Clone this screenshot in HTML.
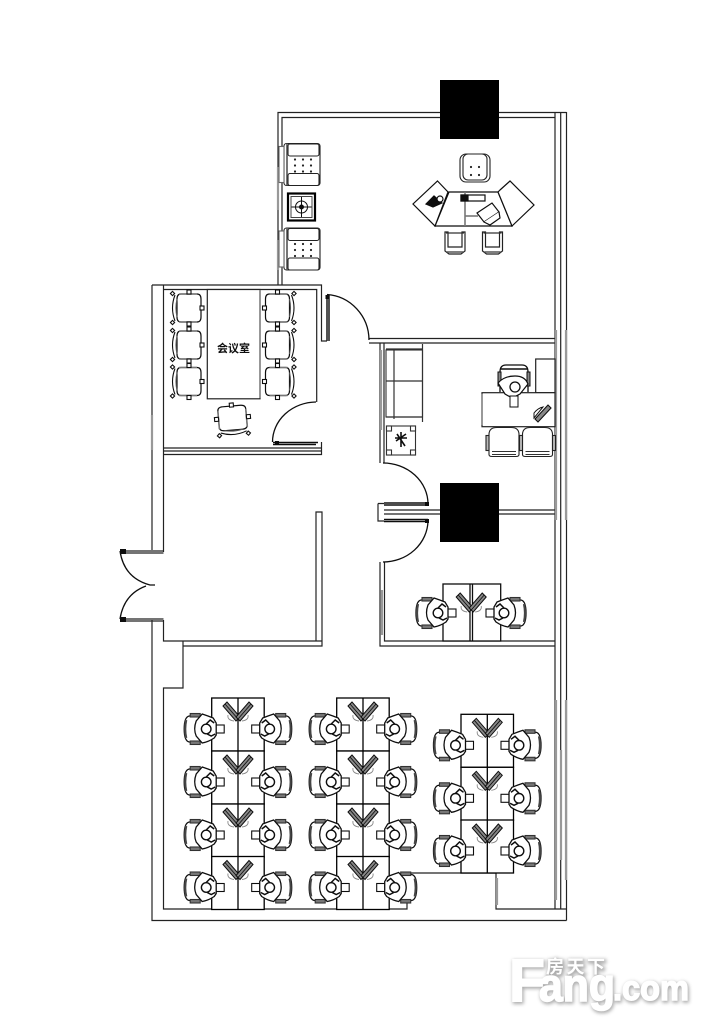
<!DOCTYPE html>
<html><head><meta charset="utf-8"><style>
html,body{margin:0;padding:0;background:#fff;width:708px;height:1025px;overflow:hidden}
svg{display:block}
</style></head><body>
<svg width="708" height="1025" viewBox="0 0 708 1025" xmlns="http://www.w3.org/2000/svg">
<defs>
<filter id="bl" x="-10%" y="-20%" width="120%" height="140%"><feGaussianBlur stdDeviation="1.8"/></filter>
<filter id="soft" x="0" y="0" width="100%" height="100%" filterUnits="userSpaceOnUse" primitiveUnits="userSpaceOnUse"><feGaussianBlur stdDeviation="0.35"/></filter>
<g id="worker" fill="none" stroke="#111" stroke-width="1.100">
  <path d="M-10-13H-16Q-21-12-21 0Q-21 12-16 13H-10" fill="#fff" stroke-width="1.300"/>
  <path d="M-19-9Q-21 0-19 9" stroke="#444" stroke-width="2.200"/>
  <rect x="-15" y="-15.500" width="10" height="3.500" fill="#777" stroke="#333"/>
  <rect x="-15" y="12" width="10" height="3.500" fill="#777" stroke="#333"/>
  <rect x="6" y="-4" width="13" height="8" fill="#fff"/>
  <path d="M-3-15L-9-8Q-12 0-9 7L-3 14Q3 13 9 9L11 6V-6L8-11Q3-13-3-15Z" fill="#fff" stroke-width="1.300"/>
  <circle cx="1" cy="0" r="4.800" fill="#fff" stroke-width="1.400"/>
  <path d="M1-5L5-9L9-6M2 5L6 7L10 5" stroke-width="1.500"/>
</g>
<g id="v" fill="none" stroke="#333">
  <path d="M-10 7Q-11 12-4 13M10 7Q11 12 4 13" stroke="#888" stroke-width="0.900"/>
  <path d="M-15-2L-11-6L2 9L-2 13Z" fill="#888" stroke="#111" stroke-width="1"/>
  <path d="M-13-4L0 11" stroke="#111" stroke-width="0.900"/>
  <path d="M15-2L11-6L-2 9L2 13Z" fill="#888" stroke="#111" stroke-width="1"/>
  <path d="M13-4L0 11" stroke="#111" stroke-width="0.900"/>
</g>
<g id="pod">
  <rect x="0" y="0" width="52.500" height="53" fill="#fff" stroke="#000" stroke-width="1.300"/>
  <path d="M26.300 0V53" stroke="#000" stroke-width="1.300"/>
  <use href="#v" x="26.300" y="10"/>
  <use href="#worker" x="-6.500" y="31"/>
  <use href="#worker" transform="translate(59 31) scale(-1 1)"/>
</g>
<g id="mchair" fill="#fff" stroke="#111" stroke-width="1.100">
  <path d="M-8-14Q-12-14-12-9V9Q-12 14-8 14H8Q12 14 12 9V-9Q12-14 8-14Z" stroke-width="1.200"/>
  <path d="M-14-13Q-19 0-14 13" fill="none"/>
  <path d="M-12-9Q-14 0-12 9" fill="none" stroke="#555"/>
  <path d="M-10-14H8M-10 14H8" stroke="#777" stroke-width="1.600"/>
  <rect x="-18" y="-16" width="3" height="3" transform="rotate(45 -16.500 -14.500)"/>
  <rect x="-18" y="13" width="3" height="3" transform="rotate(45 -16.500 14.500)"/>
  <rect x="-2" y="-18" width="4" height="4"/>
  <rect x="-2" y="14" width="4" height="4"/>
  <rect x="11" y="-2" width="4" height="4"/>
</g>
<g id="sofaV" fill="#fff" stroke="#222" stroke-width="1.100">
  <rect x="1" y="2" width="36" height="42" rx="2.500"/>
  <rect x="-4" y="5" width="5" height="36" stroke="#666"/>
  <path d="M4 2V44" stroke="#555" stroke-width="1.600"/>
  <rect x="5" y="2.500" width="31" height="12" rx="2"/>
  <rect x="5" y="32" width="31" height="12" rx="2"/>
  <g fill="#222" stroke="none">
    <circle cx="12" cy="18" r="1.100"/><circle cx="20" cy="18" r="1.100"/><circle cx="28" cy="18" r="1.100"/>
    <circle cx="12" cy="24" r="1.100"/><circle cx="20" cy="24" r="1.100"/><circle cx="28" cy="24" r="1.100"/>
    <circle cx="12" cy="30" r="1.100"/><circle cx="20" cy="30" r="1.100"/><circle cx="28" cy="30" r="1.100"/>
  </g>
</g>
<g id="guest" fill="#fff" stroke="#222" stroke-width="1.100">
  <path d="M-15 13V-7Q-15-14-7-14H7Q15-14 15-7V13Q15 15 12 15H-12Q-15 15-15 13Z"/>
  <path d="M-12 10H12M-12 13H12" stroke="#333"/>
  <rect x="-18" y="-6" width="3" height="15" fill="#bbb"/>
  <rect x="15" y="-6" width="3" height="15" fill="#bbb"/>
</g>
<g id="small" fill="#fff" stroke="#222" stroke-width="1.200">
  <path d="M-10 10V-9L-7-9V6H7V-9H10V10L6 13H-6Z" fill="none"/>
  <path d="M-9-8H9" stroke="#333"/>
  <path d="M-8 11H8" stroke="#555" stroke-width="1.500"/>
</g>
</defs>
<rect width="708" height="1025" fill="#fff"/>

<g filter="url(#soft)">
<!-- walls -->
<g fill="none" stroke="#222" stroke-width="1.200">
  <path d="M555 117.500H499M440 117.500H282V285M278 285V112.500H440M499 112.500H566.500"/>
  <path d="M555 112V909M560.700 112V909M566.500 112V920.500"/>
  <path d="M152 285H321.500V341H327M163.500 289.500H316.700V402M152 285V550M163.500 285V552"/>
  <path d="M163.500 448H321M163.500 451H321M163.500 454.500H321.500V442"/>
  <path d="M120 551H163.500M120 553H163.500M120 619H163.500M120 621H163.500"/>
  <path d="M152 620V920.500H566.500M163.500 620V641H322M183 641V688H163.500V909H407V873H496V909H566"/>
  <path d="M183 646H322V512H316V641"/>
  <path d="M369 338.500H555M369 343H555"/>
  <path d="M380 343V463M384 343V463"/>
  <path d="M384 510H440M384 514H440M499 510H555M499 514H555"/>
  <path d="M378 503.500V521H384M378 503.500H384"/>
  <path d="M380 562V646H555M384.500 562V641H555"/>
</g>
<!-- grey wall highlights -->
<g fill="none" stroke="#999" stroke-width="2.200">
  <path d="M556 330V520M566 330V520M556 700V900M561 750V860M566 700V880"/>
  <path d="M278 167V210M278 240V270M381 350V430M382 590V635M152 415V450M497 878V905"/>
</g>
<!-- door panels & arcs -->
<g fill="none" stroke="#111" stroke-width="1.300">
  <path d="M327 295V341M329 295V341" stroke-width="1.400"/>
  <path d="M327 294.500A45 46 0 0 1 369 340"/>
  <path d="M273 442.500H318M273 444.500H316" stroke-width="1.400"/>
  <path d="M272.500 442A44 40 0 0 1 316 402"/>
  <path d="M384 503H428M384 505H428M384 519.500H428M384 521.500H428" stroke-width="1.400"/>
  <path d="M383 463A45 41 0 0 1 428 504"/>
  <path d="M428 521A45 42 0 0 1 383 562"/>
  <path d="M120 551Q124 578 150 585H155"/>
  <path d="M120 619Q124 594 146 586"/>
</g>
<g fill="#111"><rect x="120" y="549" width="6" height="5"/><rect x="120" y="617" width="6" height="5"/><rect x="425" y="502" width="4" height="4"/><rect x="425" y="519" width="4" height="4"/><rect x="275" y="441" width="4" height="4"/><rect x="325.500" y="295" width="4" height="4"/></g>

<!-- columns -->
<rect x="440" y="80" width="59" height="59" fill="#000"/>
<rect x="440" y="483" width="59" height="59" fill="#000"/>

<!-- top office -->
<use href="#sofaV" x="283" y="141.500"/>
<use href="#sofaV" x="283" y="226"/>
<g>
  <rect x="288" y="193.500" width="27" height="27" fill="#fff" stroke="#000" stroke-width="2.200"/>
  <rect x="291" y="196.500" width="21" height="21" fill="none" stroke="#444"/>
  <circle cx="301.500" cy="207" r="6" fill="none" stroke="#111"/>
  <circle cx="301.500" cy="207" r="2.500" fill="#111"/>
  <path d="M301.500 197V217M291.500 207H311.500" stroke="#111"/>
</g>
<!-- exec desk -->
<g fill="#fff" stroke="#111" stroke-width="1.200">
  <path d="M449 192H498L512 226H435Z"/>
  <path d="M437.500 181L448 192L435 226L413 204Z"/>
  <path d="M500 190L510 181L534 205L512 226L498 192Z"/>
  <path d="M465 192V226" stroke="#777" stroke-width="1.600" fill="none"/>
  <rect x="461" y="195" width="24" height="6"/>
  <rect x="461" y="195" width="7" height="6" fill="#111"/>
  <path d="M477 213L492 203L499 212L484 222Z"/>
  <path d="M484 222L490 225L500 218L499 212"/>
  <path d="M465 216H478" stroke="#777" stroke-width="1.600"/>
  <path d="M426 204L434 196L442 203L433 207Z" fill="#111"/>
  <circle cx="440" cy="199" r="3" fill="#fff"/>
</g>
<g fill="#fff" stroke="#222" stroke-width="1.100">
  <rect x="460" y="154" width="30" height="28" rx="6"/>
  <rect x="463" y="154" width="24" height="26" rx="5"/>
  <g fill="#222" stroke="none"><circle cx="471" cy="167" r="1.100"/><circle cx="479" cy="167" r="1.100"/><circle cx="471" cy="175" r="1.100"/><circle cx="479" cy="175" r="1.100"/></g>
</g>
<use href="#small" x="455" y="241"/>
<use href="#small" x="492.500" y="241"/>

<!-- meeting room -->
<rect x="207.300" y="289.500" width="52.700" height="109.300" fill="#fff" stroke="#222" stroke-width="1.200"/>
<path d="M260 290V398" stroke="#888" stroke-width="1.600"/>
<text x="233.500" y="352" text-anchor="middle" font-family="'Liberation Sans','Noto Sans CJK SC',sans-serif" font-size="11" font-weight="700" fill="#111">会议室</text>
<use href="#mchair" x="189" y="308"/>
<use href="#mchair" x="189" y="345"/>
<use href="#mchair" x="189" y="381.500"/>
<use href="#mchair" transform="translate(277.500 308) scale(-1 1)"/>
<use href="#mchair" transform="translate(277.500 345) scale(-1 1)"/>
<use href="#mchair" transform="translate(277.500 381.500) scale(-1 1)"/>
<use href="#mchair" transform="translate(232.500 418) rotate(-95)"/>

<!-- second office -->
<g fill="#fff" stroke="#333" stroke-width="1.100">
  <rect x="386" y="350" width="36.500" height="67"/>
  <path d="M394 349V419M386 381H422.500M386 349H422.500M386 417H422.500M422.500 344V422" stroke-width="1.200"/>
  <rect x="386.500" y="426" width="29" height="29"/>
  <rect x="386.500" y="426" width="5" height="5"/><rect x="410.500" y="426" width="5" height="5"/><rect x="386.500" y="450" width="5" height="5"/><rect x="410.500" y="450" width="5" height="5"/>
</g>
<path d="M396 441L406 434M397 434L405 446M401 432V447M395 438H407" stroke="#111" stroke-width="1.600"/>
<g fill="#fff" stroke="#222" stroke-width="1.200">
  <rect x="535.700" y="359" width="19.300" height="33.700"/>
  <rect x="482" y="392.700" width="73" height="34"/>
</g>
<path d="M482 394V425" stroke="#999" stroke-width="2"/>
<g stroke="#111" fill="#fff">
  <path d="M500 392V372Q500 365 506 365H522Q528 365 528 372V392" stroke-width="1.300"/>
  <path d="M501 369H527" stroke-width="1.600"/>
  <rect x="498" y="372" width="3" height="14" fill="#888"/>
  <rect x="527" y="372" width="3" height="14" fill="#888"/>
  <path d="M498 383Q504 376 515 376Q525 376 528 384L520 394L512 398L505 394Z" stroke-width="1.200"/>
  <rect x="510" y="396" width="8" height="11"/>
  <circle cx="515" cy="387" r="5" stroke-width="1.300"/>
</g>
<g fill="#888" stroke="#111"><path d="M535 419L548 405L551 408L538 422Z" stroke-width="1.100"/><path d="M534 413Q538 408 543 407L534 418Z" fill="#fff"/></g>
<use href="#guest" x="504" y="441.500"/>
<use href="#guest" x="537.500" y="441.500"/>

<!-- third office -->
<g fill="#fff" stroke="#111" stroke-width="1.300">
  <rect x="443" y="584" width="57.700" height="57"/>
  <path d="M470 584V641M472.500 584V641"/>
</g>
<use href="#v" x="471.200" y="599"/>
<use href="#worker" x="437" y="613"/>
<use href="#worker" transform="translate(505 613) scale(-1 1)"/>

<!-- pods -->
<use href="#pod" x="211.700" y="698"/>
<use href="#pod" x="211.700" y="751"/>
<use href="#pod" x="211.700" y="804"/>
<use href="#pod" x="211.700" y="856.500"/>
<use href="#pod" x="336.700" y="698"/>
<use href="#pod" x="336.700" y="751"/>
<use href="#pod" x="336.700" y="804"/>
<use href="#pod" x="336.700" y="856.500"/>
<use href="#pod" x="461" y="714.300"/>
<use href="#pod" x="461" y="767.300"/>
<use href="#pod" x="461" y="820"/>
</g>

<!-- watermark -->
<g font-family="'Liberation Sans','Noto Sans CJK SC',sans-serif" font-weight="700">
  <g fill="#888" stroke="#888" stroke-width="2.500" filter="url(#bl)" opacity="0.7" transform="translate(1 1.500)">
    <text x="509" y="1001" font-size="60" textLength="36" lengthAdjust="spacingAndGlyphs">F</text>
    <text x="539" y="1001" font-size="46" textLength="76" lengthAdjust="spacingAndGlyphs">ang</text>
    <text x="613" y="1000" font-size="35" textLength="76" lengthAdjust="spacingAndGlyphs">.com</text>
    <text x="546" y="973" font-size="18" textLength="59">房天下</text>
  </g>
  <g fill="#fff" stroke="#fff" stroke-width="1.500">
    <text x="509" y="1001" font-size="60" textLength="36" lengthAdjust="spacingAndGlyphs">F</text>
    <text x="539" y="1001" font-size="46" textLength="76" lengthAdjust="spacingAndGlyphs">ang</text>
    <text x="613" y="1000" font-size="35" textLength="76" lengthAdjust="spacingAndGlyphs">.com</text>
  </g>
  <text x="546" y="973" font-size="18" textLength="59" fill="#fff">房天下</text>
</g>
</svg>
</body></html>
